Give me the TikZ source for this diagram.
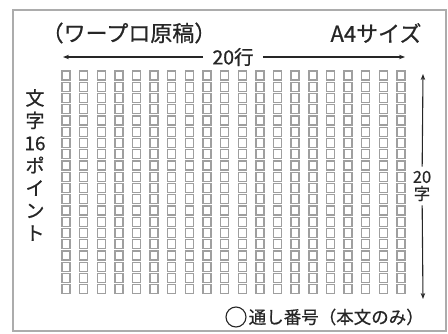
\documentclass[tikz,border=0pt]{standalone}
\usepackage{fontspec}
\setmainfont{Noto Sans CJK JP}[FakeBold=0.7]
\usetikzlibrary{arrows.meta,positioning}

\begin{document}
\begin{tikzpicture}[x=1pt,y=-1pt,
  waku/.style={draw=gray!65,line width=1.4pt},
  masu/.style={draw=gray!75,line width=1.4pt},
  yaji/.style={-{Stealth[length=6pt,width=4.5pt]},line width=1.1pt,black!85},
  moji/.style={text=black!85,inner sep=0pt,font=\fontsize{18}{22}\selectfont}]
\useasboundingbox (0,0) rectangle (448,333);
\draw [waku] (13,10) rectangle (446,331);
% 20 x 20 masu
\foreach \i in {0,...,19}
  \foreach \j in {0,...,19}
    \draw [masu] ({62+17.63*\i},{71+11.25*\j}) rectangle +(8,9);
\node [moji,font=\fontsize{22}{24}\selectfont] (genko) at (129,33) {（ワープロ原稿）};
\node [moji,font=\fontsize{22}{24}\selectfont] (size) at (376,33) {A4サイズ};
% gyo
\node [moji,inner xsep=9pt,font=\fontsize{19.5}{22}\selectfont] (gyo) at (233,57) {20行};
\coordinate (gl) at (63,57);
\coordinate (gr) at (405,57);
\draw [yaji] (gyo) -- (gl);
\draw [yaji] (gyo) -- (gr);
% ji
\node [moji,align=center,inner ysep=4pt,font=\fontsize{16.5}{17}\selectfont] (ji) at (422,186) {20\\字};
\coordinate (jt) at (423,74);
\coordinate (jb) at (423,299);
\draw [yaji] (ji) -- (jt);
\draw [yaji] (ji) -- (jb);
\node [moji,align=center,font=\fontsize{19}{22.5}\selectfont] (point) at (35,165) {文\\字\\16\\ポ\\イ\\ン\\ト};
\node [draw=black!85,line width=1.1pt,circle,minimum size=20pt,inner sep=0pt] (maru) at (236,317) {};
\node [moji,anchor=west,font=\fontsize{17.5}{19}\selectfont] (bango) at ([xshift=2pt]maru.east) {通し番号（本文のみ）};
\end{tikzpicture}
\end{document}
